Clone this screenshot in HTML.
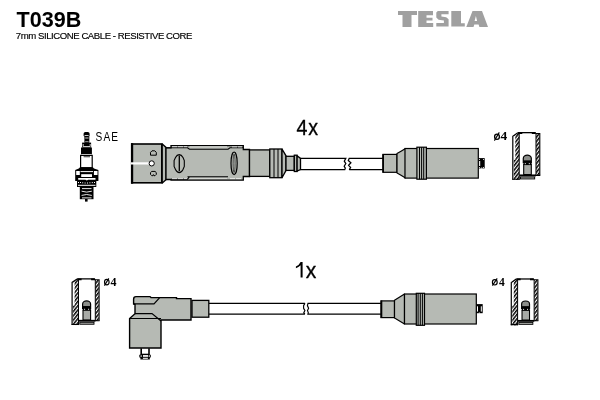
<!DOCTYPE html>
<html><head><meta charset="utf-8">
<style>
html,body{margin:0;padding:0;background:#fff;width:600px;height:400px;overflow:hidden}
svg{position:absolute;left:0;top:0;will-change:transform}
text{font-family:"Liberation Sans",sans-serif}
</style></head>
<body>
<svg width="600" height="400" viewBox="0 0 600 400" stroke-miterlimit="2">
<defs>
<pattern id="hatch" patternUnits="userSpaceOnUse" width="2.7" height="3" patternTransform="rotate(38)">
<rect width="2.7" height="3" fill="#fff"/>
<rect x="0" y="0" width="1.5" height="3" fill="#000"/>
</pattern>
<g id="cap">
<path d="M1 4.3L5.8 0.9H7V48H3V4.3z" fill="url(#hatch)"/>
<rect x="1.5" y="28" width="5" height="20" fill="url(#hatch)"/>
<rect x="23.8" y="2" width="3.4" height="41.8" fill="url(#hatch)"/>
<path d="M0.5 48V4.5L5.5 1" fill="none" stroke="#000" stroke-width="1.2"/>
<path d="M5.5 0.9H23.2" fill="none" stroke="#000" stroke-width="1.3"/><path d="M6 1.3H10M19.5 1.3H23.5" fill="none" stroke="#000" stroke-width="1.8"/>
<path d="M6.9 1.5V48M23.7 1.6V44" fill="none" stroke="#000" stroke-width="1"/>
<path d="M23.2 1.7H27.5V43.6" fill="none" stroke="#000" stroke-width="1.1"/>
<path d="M0 47.5H7.4M23.2 43.6H28" fill="none" stroke="#000" stroke-width="1.1"/>
<rect x="7" y="42.7" width="16.7" height="1.9" fill="#000"/>
<rect x="8.2" y="45.2" width="14.2" height="2" fill="#a8aaa6" stroke="#000" stroke-width="0.9"/>
<rect x="11.4" y="32.8" width="7.6" height="10" fill="#a8aaa6" stroke="#000" stroke-width="1.1"/>
<rect x="11.2" y="30.7" width="8" height="2.4" fill="#000"/>
<path d="M11 31V26.5C11 24.6 13 23.4 15 23.4C17 23.4 19 24.6 19 26.5V31z" fill="#8c8e8a" stroke="#000" stroke-width="1.2"/>
<rect x="11" y="28.6" width="8" height="2.4" fill="#000"/>
<rect x="12.5" y="31.4" width="1" height="1" fill="#fff"/><rect x="16.5" y="31.4" width="1" height="1" fill="#fff"/>
</g>
</defs>
<rect width="600" height="400" fill="#fff"/>

<!-- Header -->
<text transform="translate(16.6 26.7) scale(0.955 1)" x="0" y="0" font-size="22.6" font-weight="bold" fill="#000">T039B</text>
<text x="15.8" y="39.4" font-size="9.6" fill="#000" letter-spacing="-0.45" stroke="#000" stroke-width="0.15">7mm SILICONE CABLE - RESISTIVE CORE</text>

<!-- TESLA logo -->
<g fill="#a0a0a0">
<path d="M398 11h19v4h-5.5v12h-9v-12h-4.5z"/>
<path d="M418.2 11h14.8v4.3h-6.5v2.5h6v2.8h-6v2.4h6.7v4h-15z"/>
<path d="M437.8 11H448.6V14.3H441.4V16.6L446.2 17.2L448.6 19.2V26.6H436.3V23.1H443.9V20.6L438.6 19.7L436.3 17.6V12.6z"/>
<path d="M451.3 11H461V23.3H464.8V26.6H451.3z"/>
<path d="M472.5 11h9.5l6 16h-8.6l-0.8-2.6h-4.3l-0.8 2.6h-7.2zM474.6 21h2.5l-1.2-5z"/>
</g>

<!-- ======= TOP ROW ======= -->
<!-- Spark plug -->
<g>
<rect x="83.6" y="132" width="6" height="5" rx="1.8" fill="#000"/>
<rect x="84.6" y="135" width="4" height="0.8" fill="#fff"/>
<rect x="84.4" y="136.3" width="4.9" height="6.5" fill="#000"/>
<rect x="85.2" y="137.6" width="3.4" height="0.8" fill="#fff"/>
<rect x="85.2" y="141" width="3.4" height="1" fill="#888"/>
<rect x="82.1" y="142.6" width="9" height="5" fill="#000"/>
<path d="M83.2 144v2.5h7v-2.5" fill="none" stroke="#fff" stroke-width="0.8"/>
<rect x="81" y="147.5" width="10.9" height="6.8" fill="#000"/>
<rect x="81.8" y="154.2" width="9.5" height="0.8" fill="#fff"/>
<rect x="80.6" y="155.4" width="11.6" height="12.4" fill="#fff" stroke="#000" stroke-width="1.2"/>
<rect x="83.6" y="156.4" width="6.4" height="0.8" fill="#000"/>
<path d="M80 167.2H92.8L94 168.4L98.4 170V181H96.3V187H77V181H75.2V170L78.8 168.4z" fill="#000"/>
<path d="M76.2 170.9h3.6v4.2h-3.6zM93.9 170.9h3.6v4.2h-3.6z" fill="#fff"/>
<rect x="80.5" y="171.1" width="12.5" height="1" fill="#fff"/>
<rect x="81.2" y="174.2" width="10.8" height="2.8" fill="#fff"/>
<path d="M78.2 178H95.5V179.8H88.2L86.8 180.6L85.4 179.8H78.2z" fill="#fff"/>
<g fill="#fff">
<rect x="78" y="182" width="1" height="1"/><rect x="80" y="182" width="1" height="1"/><rect x="82.2" y="182.3" width="1" height="1"/>
<rect x="84.6" y="182.5" width="1" height="1"/><rect x="87" y="182.5" width="1" height="1"/><rect x="89.4" y="182.3" width="1" height="1"/>
<rect x="91.8" y="182.1" width="1" height="1"/><rect x="94" y="182" width="1" height="1"/>
</g>
<rect x="78" y="184.8" width="17.5" height="1" fill="#fff"/>
<rect x="79.8" y="187" width="13.7" height="12.2" fill="#000"/>
<g fill="none" stroke="#fff" stroke-width="0.9">
<path d="M82 188.6H91.5"/>
<path d="M81.6 191.2Q86.6 193 91.8 191.2"/>
<path d="M81.6 195.4Q86.6 193.6 91.8 195.4"/>
<path d="M82 197.9H91.5"/>
</g>
<rect x="85" y="199" width="2.6" height="2.6" fill="#000"/>
</g>
<text transform="translate(95.6 140.6) scale(0.85 1)" x="0" y="0" font-size="11.9" fill="#000" letter-spacing="1.3">SAE</text>

<!-- Angled connector box -->
<path d="M162 143.8l4 3.6v32.4l-4 3.5z" fill="#b6bab4" stroke="#000" stroke-width="1.3"/>
<rect x="131.8" y="144" width="30" height="38.8" fill="#b6bab4" stroke="#000" stroke-width="1.6"/>
<rect x="130.9" y="143.2" width="2.3" height="40.5" fill="#000"/>
<rect x="131" y="162.3" width="19" height="2.2" fill="#fff"/>
<circle cx="151.7" cy="163.4" r="2.6" fill="#fff" stroke="#000" stroke-width="1"/>
<path d="M152 150.8H154.8L156.3 152.4V155.2H150.5V152.4z" fill="#b6bab4" stroke="#000" stroke-width="1"/>
<path d="M150.5 172.6L151.8 171.4H155L156.3 172.6V174.4L155 175.7H153.9L153.4 174.6L152.9 175.7H151.8L150.5 174.4z" fill="#b6bab4" stroke="#000" stroke-width="1"/>

<!-- tube & sleeve -->
<path d="M166 147.8H171V145.6H243.3V149.5H249.5V176.5H243.3V180.2H171V179.5H166z" fill="#b6bab4" stroke="#000" stroke-width="1.3"/>
<path d="M166 147.8H187.5L189.5 149.2H228L230 147.8H243.3M166 179.5H171M187.5 176.7H228M171 179.3H187.5L189.5 176.7" fill="none" stroke="#000" stroke-width="1.1"/>
<path d="M189.5 146.8H227M189.5 178.5H227" fill="none" stroke="#d4d6d2" stroke-width="1.2"/>
<path d="M172 146.7H187M232 146.9H242M172 178.6H187M230 178.6H242" fill="none" stroke="#fff" stroke-width="0.7" stroke-dasharray="5 1"/>
<g stroke="#000" stroke-width="1.3">
<rect x="249.5" y="149.9" width="20.3" height="26.5" fill="#b6bab4"/>
<rect x="269.8" y="149" width="12.2" height="28.7" fill="#b6bab4"/>
<path d="M282 149L286 155.8V170.6L282 177.7z" fill="#b6bab4"/>
<rect x="286" y="156.3" width="8.3" height="14.1" fill="#b6bab4"/>
<rect x="294.3" y="155.2" width="2.8" height="16.3" fill="#b6bab4"/>
<path d="M297.1 155.8L300.5 158.4V169.5L297.1 171z" fill="#b6bab4"/>
</g>
<g stroke="#000" stroke-width="1">
<line x1="274" y1="149" x2="274" y2="177.7"/>
<line x1="278" y1="149" x2="278" y2="177.7"/>
</g>
<path d="M179.2 154.6Q181.5 154.6 183 157.5L184.3 160.5V166.5L183 169.5Q181.5 172.6 179.2 172.6Q177 172.6 175.5 169.5L174.1 166.5V160.5L175.5 157.5Q177 154.6 179.2 154.6z" fill="none" stroke="#000" stroke-width="1.1"/>
<line x1="179.3" y1="155.5" x2="179.3" y2="171.3" stroke="#000" stroke-width="1.3"/>
<ellipse cx="234.1" cy="163.3" rx="3.1" ry="11.3" fill="none" stroke="#000" stroke-width="1.2"/>
<ellipse cx="234.1" cy="163.3" rx="1" ry="9.2" fill="none" stroke="#000" stroke-width="0.6"/>

<!-- cable top -->
<g stroke="#000" stroke-width="1.25" fill="none">
<path d="M300.5 158.35H345.8L344.3 161.2L345.8 163.6L344.2 166.2L345.3 168.1L344.8 169.5H300.5"/>
<path d="M383 158.35H349.2L348.3 160.5L350.9 162.8L348.6 165.2L350.6 167.5L349.3 169.5H383"/>
</g>

<!-- right boot top -->
<g stroke="#000" stroke-width="1.2">
<rect x="383" y="154.4" width="14" height="17.9" fill="#b6bab4"/>
<path d="M397 153.6L401 151.2L405.5 148.5V178.1L401 175.3L397 173z" fill="#b6bab4"/>
<rect x="405" y="148.5" width="73.3" height="29.6" fill="#b6bab4"/>
<rect x="416.9" y="147.2" width="9.5" height="32" fill="#b6bab4"/>
</g>
<rect x="382.3" y="154.2" width="1.7" height="18.4" fill="#000"/>
<g stroke="#000" stroke-width="1">
<line x1="419.5" y1="147.2" x2="419.5" y2="179.2"/>
<line x1="421.6" y1="147.2" x2="421.6" y2="179.2"/>
<line x1="423.7" y1="147.2" x2="423.7" y2="179.2"/>
</g>
<rect x="478.4" y="158.1" width="6.3" height="10.3" fill="#000"/>
<rect x="479.1" y="161" width="1.1" height="5" fill="#fff"/>
<g fill="#fff"><rect x="479.1" y="159" width="0.9" height="0.9"/><rect x="483.1" y="159" width="0.9" height="0.9"/><rect x="479.1" y="167" width="0.9" height="0.9"/><rect x="483.1" y="167" width="0.9" height="0.9"/><rect x="480.9" y="167.6" width="1.4" height="0.8"/></g>

<text transform="translate(297.5 134.8) scale(0.9 1)" x="-1" y="0" font-size="21.8" fill="#000" stroke="#000" stroke-width="0.35" letter-spacing="0.9">4x</text>

<!-- top right cap -->
<use href="#cap" x="512.3" y="131.75"/>
<g><ellipse cx="497" cy="136.7" rx="2.4" ry="2.6" fill="none" stroke="#000" stroke-width="1.3"/><line x1="499.3" y1="132.4" x2="494.4" y2="140.6" stroke="#000" stroke-width="1.1"/><text transform="translate(500.6 140.3) scale(1.12 1)" x="0" y="0" font-size="12" font-weight="bold" style="font-family:'Liberation Serif',serif" fill="#000">4</text></g>

<!-- ======= BOTTOM ROW ======= -->
<!-- bottom-left cap -->
<use href="#cap" transform="translate(71.6 278) scale(1 0.98)"/>
<g><ellipse cx="106.8" cy="282.1" rx="2.3" ry="2.8" fill="none" stroke="#000" stroke-width="1.15"/><line x1="108.8" y1="278.4" x2="104.4" y2="285.6" stroke="#000" stroke-width="1.1"/><text x="110.6" y="285.8" font-size="12" font-weight="bold" style="font-family:'Liberation Serif',serif" fill="#000">4</text></g>

<!-- L boot -->
<path d="M133.6 299.2Q133.6 296.6 136 296.6H150L151 297.6H176.5V298.6H191V320H161V348H129.6V318.5L135 313.8V304.5L133.6 304z" fill="#b6bab4" stroke="#000" stroke-width="1.4"/>
<path d="M133.6 303.9H154L159.5 297.8M135 313.6H152L161 321M129.6 318.5H161" fill="none" stroke="#000" stroke-width="1.2"/>
<rect x="192" y="300.4" width="16.8" height="16.8" fill="#b6bab4" stroke="#000" stroke-width="1.3"/>
<rect x="140.4" y="348.3" width="9.4" height="11.2" fill="#000"/>
<rect x="142" y="348.8" width="6.2" height="4.9" fill="#fff"/>
<rect x="139.3" y="354.4" width="11.5" height="3.3" rx="1" fill="#000"/>
<rect x="143" y="355.1" width="5" height="1.7" fill="#fff"/>
<rect x="140.5" y="355.2" width="1.3" height="1.6" rx="0.6" fill="#fff"/>
<rect x="148.6" y="355.2" width="1.3" height="1.6" rx="0.6" fill="#fff"/>
<rect x="142.9" y="357.8" width="5" height="1" fill="#fff"/>

<!-- cable bottom -->
<g stroke="#000" stroke-width="1.15" fill="none">
<path d="M209 303.4H304.9L303.6 305.6V308.3L304.9 310.6L303.8 312.6L304.8 314.05H209"/>
<path d="M381 303.4H308L307.4 305.6L308.6 308.2L307.5 310.6L308.3 312.6L307.9 314.05H381"/>
</g>

<!-- right boot bottom -->
<g stroke="#000" stroke-width="1.2">
<rect x="381" y="300.9" width="13.5" height="16.7" fill="#b6bab4"/>
<path d="M394.5 300.3L404.5 294V324L394.5 317.9z" fill="#b6bab4"/>
<rect x="404.5" y="294" width="71.8" height="30" fill="#b6bab4"/>
<rect x="416.3" y="293.3" width="8.2" height="32" fill="#b6bab4"/>
</g>
<rect x="380.6" y="300.5" width="1.7" height="17.5" fill="#000"/>
<g stroke="#000" stroke-width="1">
<line x1="418.1" y1="293.3" x2="418.1" y2="325.3"/>
<line x1="420.3" y1="293.3" x2="420.3" y2="325.3"/>
<line x1="422.4" y1="293.3" x2="422.4" y2="325.3"/>
</g>
<rect x="476.4" y="304.1" width="6.3" height="9.1" fill="#000"/>
<rect x="477" y="306.3" width="1" height="5.3" fill="#fff"/>
<rect x="480.8" y="306.3" width="1" height="5.3" fill="#fff"/>
<rect x="478.8" y="312.6" width="1.2" height="0.7" fill="#fff"/>

<path d="M300.6 262.1H302.6V277.5H300.6V265.3Q298.6 267.2 295.9 268.2V266.6Q299.4 264.9 300.6 262.1z" fill="#000"/>
<text transform="translate(306 277.5) scale(0.97 1)" x="-0.3" y="0" font-size="21.8" fill="#000" stroke="#000" stroke-width="0.3">x</text>

<!-- bottom-right cap -->
<use href="#cap" transform="translate(510.8 278.1) scale(0.985 0.98)"/>
<g><ellipse cx="494.8" cy="282.3" rx="2.4" ry="2.7" fill="none" stroke="#000" stroke-width="1.15"/><line x1="497.2" y1="278.4" x2="492.4" y2="285.6" stroke="#000" stroke-width="1.1"/><text x="499" y="286" font-size="11.5" font-weight="bold" style="font-family:'Liberation Serif',serif" fill="#000">4</text></g>
</svg>
</body></html>
